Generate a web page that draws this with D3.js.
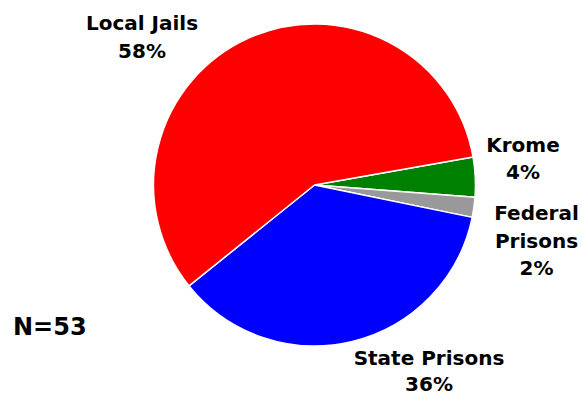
<!DOCTYPE html>
<html>
<head>
<meta charset="utf-8">
<script src="https://cdn.jsdelivr.net/npm/d3@7"></script>
<style>
  html, body { margin: 0; padding: 0; background: #fff; }
  svg text { font-family: "DejaVu Sans", Verdana, sans-serif; font-weight: bold; fill: #000; }
</style>
</head>
<body>
<svg id="chart" width="582" height="396"></svg>
<script>
// Where detainees were held
const categories = ["Krome", "Federal Prisons", "State Prisons", "Local Jails"];
const percents = [4, 2, 36, 58];
const colors = ["#008000", "#999999", "#0000ff", "#ff0000"];
const labelLines = [["Krome", "4%"], ["Federal", "Prisons", "2%"], ["State Prisons", "36%"], ["Local Jails", "58%"]];
const sampleSize = "N=53";

const svg = d3.select("#chart");
const cx = 314.5, cy = 185, r = 161;

// Slices start just above the 3 o'clock position and run clockwise
const startDeg = 80;
const pie = d3.pie()
  .value(d => d)
  .sort(null)
  .startAngle(startDeg * Math.PI / 180)
  .endAngle((startDeg + 360) * Math.PI / 180);

const arc = d3.arc().innerRadius(0).outerRadius(r);
const arcs = pie(percents);

const g = svg.append("g").attr("transform", `translate(${cx},${cy})`);
g.selectAll("path")
  .data(arcs)
  .join("path")
  .attr("d", arc)
  .attr("fill", (d, i) => colors[i])
  .attr("stroke", "#fff")
  .attr("stroke-width", 1.5)
  .attr("stroke-linejoin", "round");

// Label anchors (centre x, first baseline, line spacing)
const labelPos = [
  { x: 523, y: 152, gap: 27 },
  { x: 536.5, y: 220, gap: 27.5 },
  { x: 429, y: 365, gap: 26 },
  { x: 142, y: 30, gap: 27.5 }
];

labelLines.forEach((lines, i) => {
  const t = svg.append("text")
    .attr("text-anchor", "middle")
    .attr("font-size", 20);
  lines.forEach((s, j) => {
    t.append("tspan")
      .attr("x", labelPos[i].x)
      .attr("y", labelPos[i].y + j * labelPos[i].gap)
      .text(s);
  });
});

svg.append("text")
  .attr("x", 13)
  .attr("y", 335)
  .attr("font-size", 24)
  .text(sampleSize);
</script>
</body>
</html>
